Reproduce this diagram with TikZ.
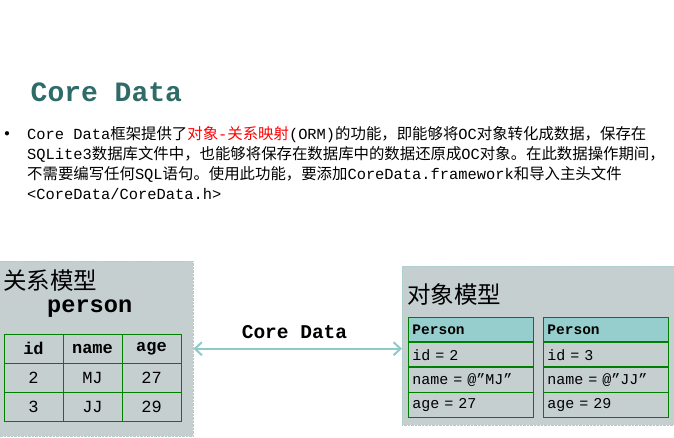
\documentclass[tikz,border=0pt]{standalone}
\usepackage{fontspec}
\setmainfont{Noto Sans CJK SC}
\setmonofont{Liberation Mono}
\usetikzlibrary{arrows.meta,positioning}
\definecolor{titlecol}{HTML}{2F6B68}
\definecolor{panelcol}{HTML}{C5CFD0}
\definecolor{panelrim}{HTML}{A8D0D0}
\definecolor{headcol}{HTML}{96CECE}
\definecolor{tablecol}{HTML}{008000}
\definecolor{arrowcol}{HTML}{8ECACA}
\tikzset{
  para/.style={anchor=base west, inner sep=0pt, font=\fontsize{15.4}{20}\selectfont},
  panel/.style={fill=panelcol, draw=panelrim, densely dotted, inner sep=0pt, anchor=north west},
  bigzh/.style={anchor=west, inner sep=0pt, font=\fontsize{23.5}{24}\selectfont},
  tabcell/.style={draw=tablecol, line width=0.9pt, minimum width=59pt, minimum height=29pt, inner sep=0pt, font=\fontsize{17}{17}\selectfont\ttfamily},
  headcell/.style={tabcell, font=\fontsize{17}{17}\selectfont\ttfamily\bfseries},
  objcell/.style={draw=tablecol, line width=0.9pt, text width=117pt, align=left, inner xsep=4pt, inner ysep=0pt, minimum height=24.25pt, font=\fontsize{15}{15}\selectfont\ttfamily},
  objhead/.style={objcell, fill=headcol, font=\fontsize{14.5}{14.5}\selectfont\ttfamily\bfseries},
  link/.style={draw=arrowcol, line width=2pt, {Straight Barb[length=7pt,width=13pt]}-{Straight Barb[length=7pt,width=13pt]}}
}
\begin{document}
\begin{tikzpicture}[x=1pt,y=-1pt]
    \useasboundingbox (0,0) rectangle (674,437);
    \node[anchor=base west, inner sep=0pt, text=titlecol, font=\fontsize{28}{28}\selectfont\ttfamily\bfseries] (title) at (30.5,101) {Core Data};
    \node[inner sep=0pt, font=\fontsize{11}{11}\selectfont] (dot) at (7,134) {$\bullet$};
    \node[para] (line1) at (27,139) {\texttt{Core Data}框架提供了\textcolor{red}{对象\texttt{-}关系映射}\texttt{(ORM)}的功能，即能够将\texttt{OC}对象转化成数据，保存在};
    \node[para] (line2) at (27,159) {\texttt{SQLite3}数据库文件中，也能够将保存在数据库中的数据还原成\texttt{OC}对象。在此数据操作期间，};
    \node[para] (line3) at (27,179) {不需要编写任何\texttt{SQL}语句。使用此功能，要添加\texttt{CoreData.framework}和导入主头文件};
    \node[para] (line4) at (27,199) {\texttt{<CoreData/CoreData.h>}};
    \node[panel, minimum width=195pt, minimum height=175pt] (relpanel) at (-2,261) {};
    \node[panel, minimum width=280pt, minimum height=159pt] (objpanel) at (402,266) {};
    \node[bigzh] (relname) at (3,281) {关系模型};
    \node[anchor=base west, inner sep=0pt, font=\fontsize{23.6}{24}\selectfont\ttfamily\bfseries] (tabname) at (47,312) {person};
    \foreach \txt [count=\i] in {id,name,age}
        \node[headcell] (h\i) at ({33.5+59*(\i-1)},348.5) {\txt};
    \foreach \a/\b/\c [count=\r] in {2/MJ/27,3/JJ/29} {
        \node[tabcell] (r\r a) at (33.5,{348.5+29*\r}) {\a};
        \node[tabcell] (r\r b) at (92.5,{348.5+29*\r}) {\b};
        \node[tabcell] (r\r c) at (151.5,{348.5+29*\r}) {\c};
    }
    \node[bigzh] (objname) at (407,295) {对象模型};
    \foreach \obj/\x/\id/\nm/\ag in {pa/408/2/MJ/27,pb/543/3/JJ/29} {
        \node[objhead, anchor=north west] (\obj head) at (\x,317) {Person};
        \node[objcell, below=0pt of \obj head] (\obj id) {id = \id};
        \node[objcell, below=0pt of \obj id] (\obj nm) {name = @”\nm”};
        \node[objcell, below=0pt of \obj nm] (\obj ag) {age = \ag};
    }
    \draw[link] (relpanel.east) -- (relpanel.east -| objpanel.west);
    \node[anchor=base, inner sep=0pt, font=\fontsize{19.5}{20}\selectfont\ttfamily\bfseries] (cdlabel) at (294.5,338) {Core Data};
\end{tikzpicture}
\end{document}
